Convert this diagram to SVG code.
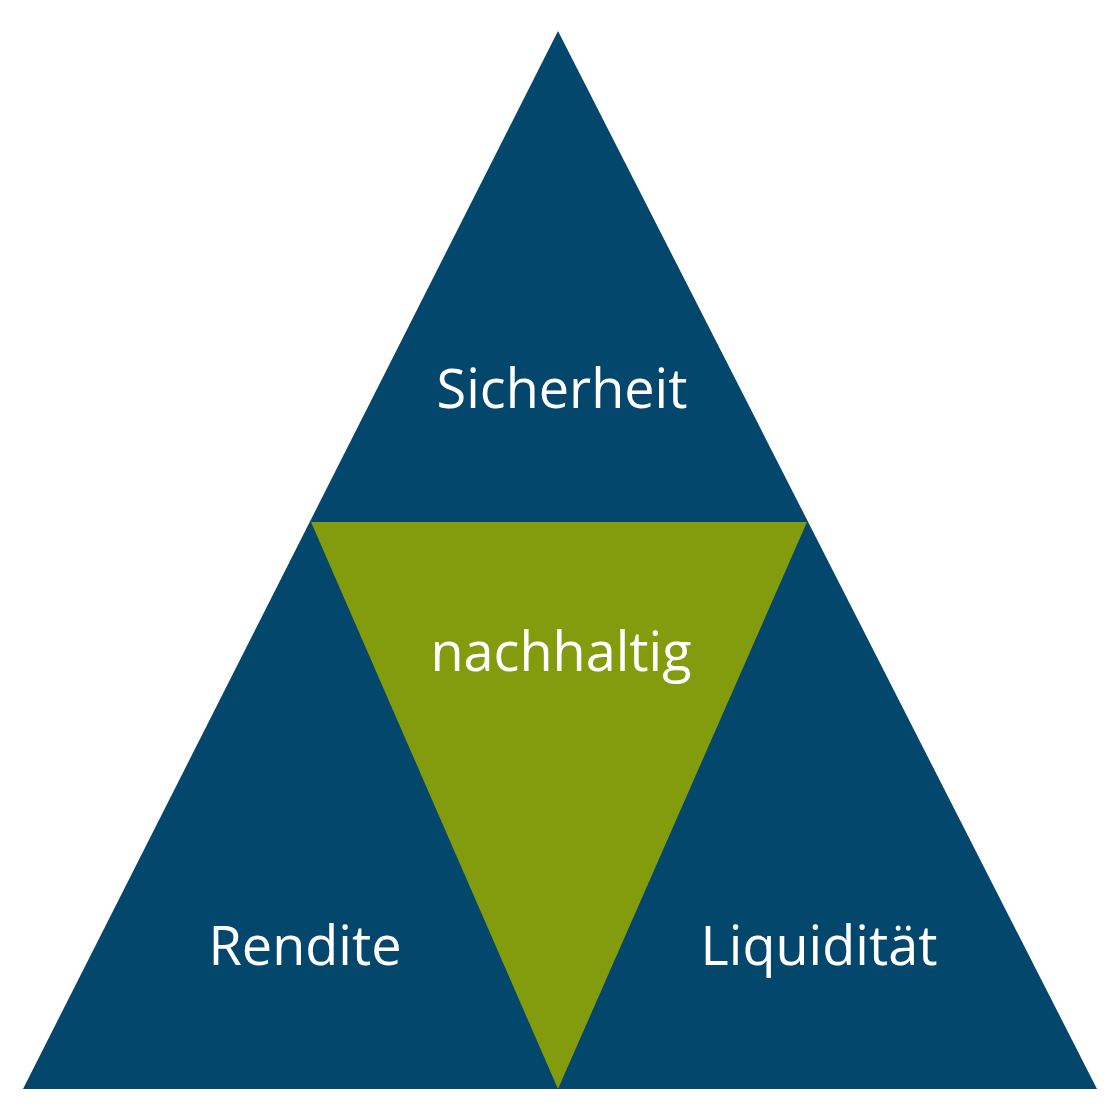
<svg xmlns="http://www.w3.org/2000/svg" width="1120" height="1120" viewBox="0 0 1120 1120">
<style>
.blue{fill:#03476D}
.green{fill:#829C0E}
.lbl{font-family:"Open Sans","Noto Sans","DejaVu Sans",sans-serif;font-size:54px;fill:#ffffff;text-anchor:middle}
</style>
<rect width="1120" height="1120" fill="#ffffff"/>
<g id="outer"><polygon class="blue" points="558,31 23,1089 1097,1089"/></g>
<g id="inner"><polygon class="green" points="311,522 807,522 558,1089"/></g>
<g id="label-sicherheit"><text class="lbl" x="562" y="408">Sicherheit</text></g>
<g id="label-nachhaltig"><text class="lbl" x="561" y="671">nachhaltig</text></g>
<g id="label-rendite"><text class="lbl" x="305" y="965">Rendite</text></g>
<g id="label-liquiditaet"><text class="lbl" x="819" y="965">Liquidität</text></g>
<g id="connectors"></g>
</svg>
